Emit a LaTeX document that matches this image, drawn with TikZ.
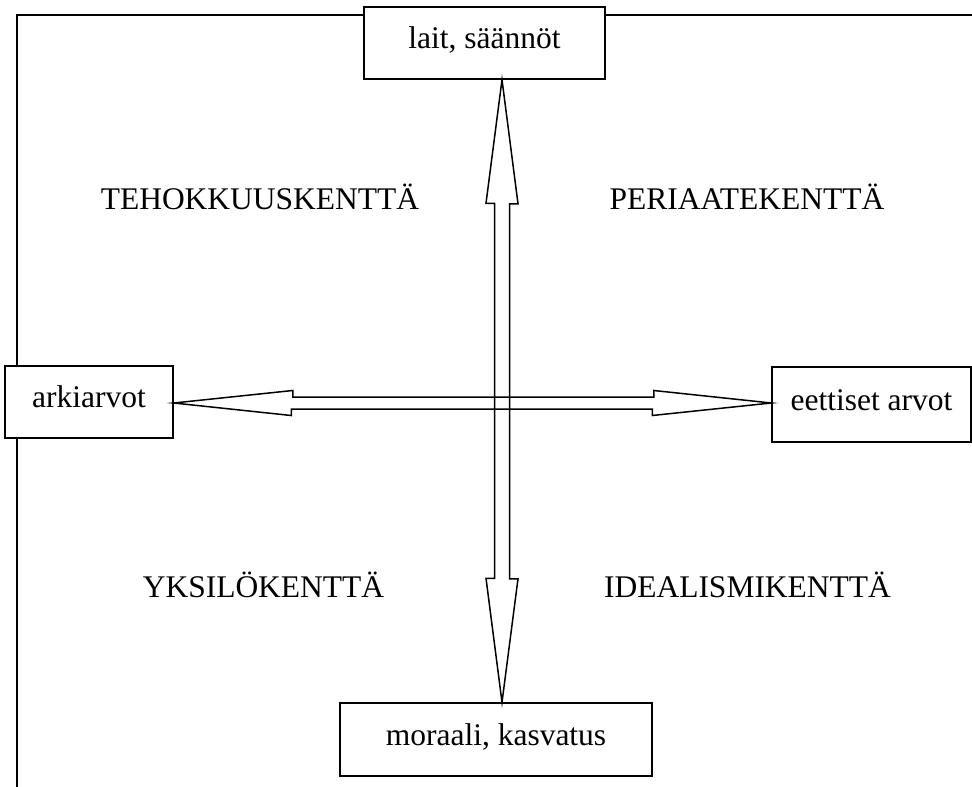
\documentclass[tikz,border=0pt]{standalone}
\usepackage{fontspec}
\setmainfont{Liberation Serif}
\usetikzlibrary{calc}
\tikzset{
  vbox/.style={draw,line width=1.5pt,fill=white,inner sep=0pt,text height=20pt,text depth=9pt},
  field/.style={anchor=base},
  frame/.style={line width=2pt},
  outl/.style={line width=1.5pt,line join=miter},
}

\begin{document}
\begin{tikzpicture}[x=1pt,y=-1pt,font=\fontsize{31.5}{38}\selectfont]
    \useasboundingbox (0,0) rectangle (972,787);
    \draw[frame] (972,15) -- (17,15) -- (17,787);
    \node[vbox,minimum width=241,minimum height=72] (laws) at (484.5,43) {lait, säännöt};
    \node[vbox,minimum width=168,minimum height=72] (everyday) at (89,402) {arkiarvot};
    \node[vbox,minimum width=199,minimum height=75] (ethical) at (871.5,404.5) {eettiset arvot};
    \node[vbox,minimum width=312,minimum height=73] (moral) at (496,739.5) {moraali, kasvatus};
    \coordinate (nTip) at (laws.south -| 502,0);
    \coordinate (sTip) at (moral.north -| 502,0);
    \coordinate (wTip) at (everyday.east |- 0,403);
    \coordinate (eTip) at (ethical.west |- 0,403);
    \draw[outl] (wTip) -- ++(119,-12.5) -- ++(0,6.5) -- ++(361,0) -- ++(0,-6.5) -- (eTip)
      -- ++(-119,12.5) -- ++(0,-6.5) -- ++(-361,0) -- ++(0,6.5) -- cycle;
    \draw[outl] (nTip) -- ++(16,124) -- ++(-8.5,0) -- ++(0,375) -- ++(8.5,0) -- (sTip)
      -- ++(-16,-124) -- ++(8.5,0) -- ++(0,-375) -- ++(-8.5,0) -- cycle;
    \node[field] (efficiency) at (260,209) {TEHOKKUUSKENTTÄ};
    \node[field] (principle) at (747,209) {PERIAATEKENTTÄ};
    \node[field] (individual) at (263.5,597) {YKSILÖKENTTÄ};
    \node[field] (idealism) at (747.5,597) {IDEALISMIKENTTÄ};
  \end{tikzpicture}
\end{document}
